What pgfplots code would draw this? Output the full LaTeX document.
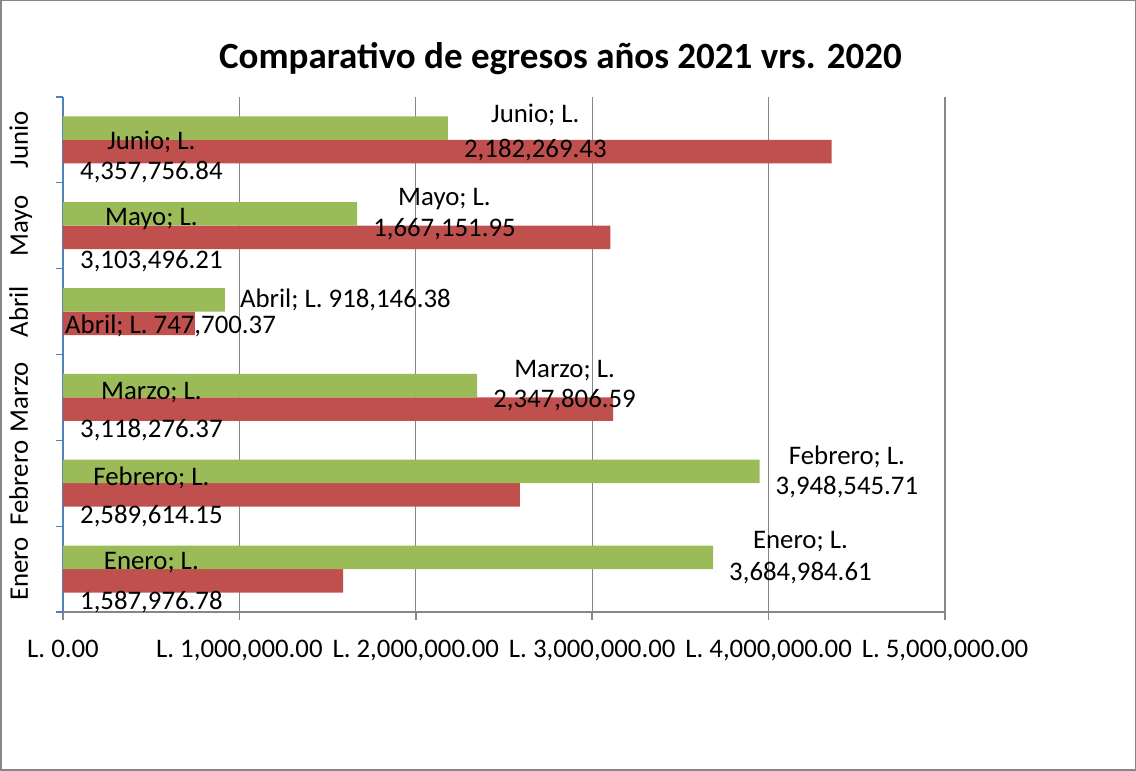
\documentclass[border=0pt]{standalone}
\usepackage{fontspec}
\setmainfont{Carlito}
\usepackage{pgfplots}
\pgfplotsset{compat=1.18}
\definecolor{gbar}{RGB}{155,187,89}
\definecolor{rbar}{RGB}{192,80,77}
\definecolor{axblue}{RGB}{79,129,189}
\definecolor{gridc}{RGB}{134,134,134}
\begin{document}
\begin{tikzpicture}[
 lab/.style={anchor=west, inner sep=0pt, align=center, font=\fontsize{26.8}{30}\selectfont, text=black},
 glab/.style={lab, xshift=16pt, yshift=11.75pt},
 rlab/.style={lab, xshift=17pt, yshift=-14pt}]
\useasboundingbox (0,0) rectangle (1136pt,771pt);
\draw[gridc, line width=1.5pt] (0.75pt,0.75pt) rectangle (1135.25pt,770.25pt);
\node[font=\bfseries\fontsize{37}{44}\selectfont, inner sep=0pt] at (560.5pt,712pt) {Comparativo de egresos años 2021 vrs. 2020};
\begin{axis}[
 at={(63pt,159pt)}, anchor=south west,
 scale only axis, width=882pt, height=515pt,
 xmin=0, xmax=5000000, ymin=-0.5, ymax=5.5,
 axis x line=bottom, axis y line=left,
 x axis line style={draw=gridc, line width=1.5pt, -},
 y axis line style={draw=axblue, line width=1.2pt, -},
 xtick={0,1000000,2000000,3000000,4000000,5000000},
 xticklabels={{L. 0.00},{L. 1,000,000.00},{L. 2,000,000.00},{L. 3,000,000.00},{L. 4,000,000.00},{L. 5,000,000.00}},
 scaled x ticks=false,
 ytick={0,1,2,3,4,5},
 yticklabels={Enero,Febrero,Marzo,Abril,Mayo,Junio},
 minor ytick={-0.5,0.5,...,5.5},
 tick align=outside,
 major tick length=8pt, minor tick length=7pt,
 major x tick style={draw=gridc, line width=1.5pt},
 major y tick style={draw=none},
 minor y tick style={draw=axblue, line width=1.2pt},
 xmajorgrids,
 major x grid style={gridc, line width=1.2pt},
 ticklabel style={font=\fontsize{26.8}{32}\selectfont, text=black},
 xticklabel style={anchor=base, inner sep=0pt, yshift=-38pt},
 yticklabel style={xshift=-27pt, rotate=90, anchor=base, inner sep=0pt},
 clip=false,
]
\addplot[xbar, bar width=23.5pt, bar shift=-11.75pt, fill=rbar, draw=none]
 coordinates {(1587976.78,0) (2589614.15,1) (3118276.37,2) (747700.37,3) (3103496.21,4) (4357756.84,5)};
\addplot[xbar, bar width=23.5pt, bar shift=11.75pt, fill=gbar, draw=none]
 coordinates {(3684984.61,0) (3948545.71,1) (2347806.59,2) (918146.38,3) (1667151.95,4) (2182269.43,5)};
% labels for 2021 series (green), outside end
\node[glab] at (axis cs:3684984.61,0) {Enero; L.\\[2pt]3,684,984.61};
\node[glab] at (axis cs:3948545.71,1) {Febrero; L.\\3,948,545.71};
\node[glab] at (axis cs:2347806.59,2) {Marzo; L.\\2,347,806.59};
\node[glab, xshift=-1pt] at (axis cs:918146.38,3) {Abril; L. 918,146.38};
\node[glab] at (axis cs:1667151.95,4) {Mayo; L.\\[1pt]1,667,151.95};
\node[glab, yshift=-4pt] at (axis cs:2182269.43,5) {Junio; L.\\[5pt]2,182,269.43};
% labels for 2020 series (red), inside base
\node[rlab] at (axis cs:0,0) {Enero; L.\\[10pt]1,587,976.78};
\node[rlab] at (axis cs:0,1) {Febrero; L.\\[8pt]2,589,614.15};
\node[rlab] at (axis cs:0,2) {Marzo; L.\\[8pt]3,118,276.37};
\node[rlab, xshift=-15pt] at (axis cs:0,3) {Abril; L. 747,700.37};
\node[rlab] at (axis cs:0,4) {Mayo; L.\\[13pt]3,103,496.21};
\node[rlab, yshift=-3pt] at (axis cs:0,5) {Junio; L.\\4,357,756.84};
\end{axis}
\end{tikzpicture}
\end{document}
